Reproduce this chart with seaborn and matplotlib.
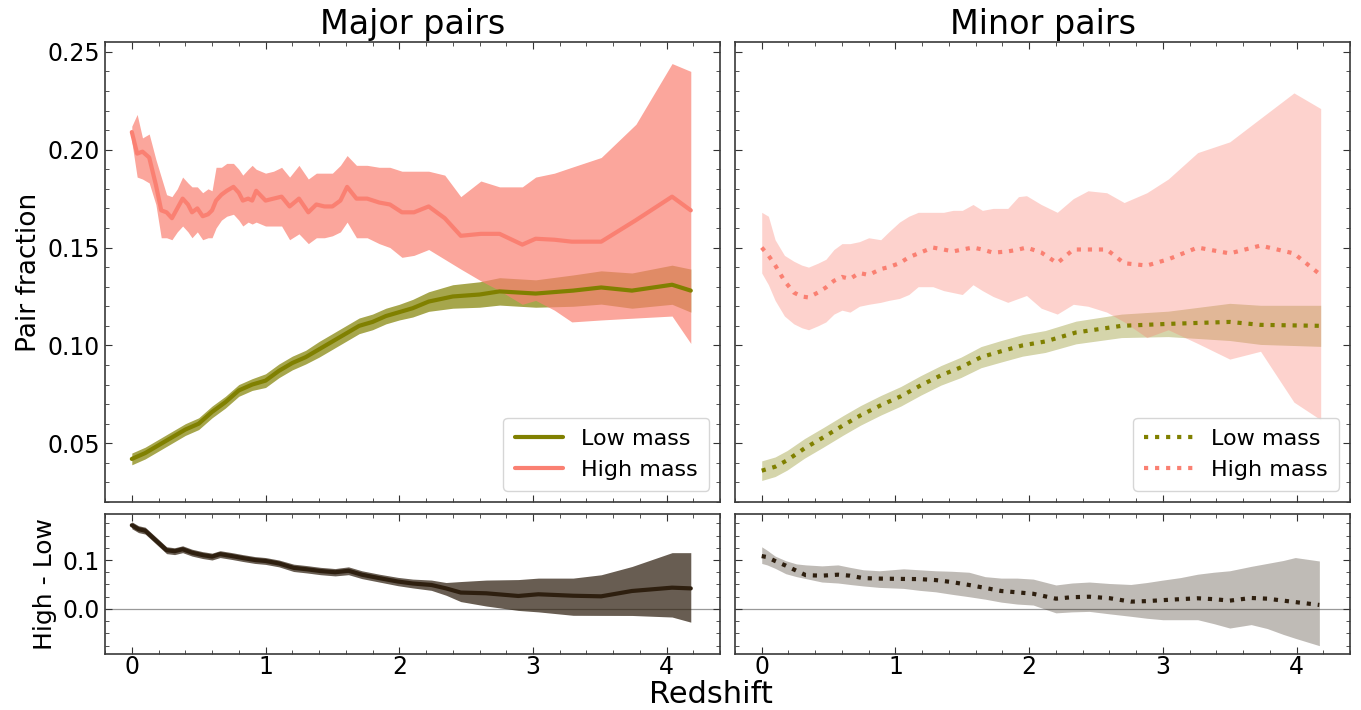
import numpy as np
import pandas as pd
import seaborn as sns
import matplotlib
import matplotlib.pyplot as plt
from matplotlib.ticker import AutoMinorLocator, MultipleLocator

matplotlib.use('Agg')

OLIVE = "#808000"
SALMON = "#FA8072"
DIFF = "#2e1f0f"

# ---- major pairs, high mass ----
maj_hi_z = [0.0, 0.04, 0.08, 0.13, 0.18, 0.22, 0.26, 0.30, 0.34, 0.38, 0.42, 0.45, 0.49, 0.53, 0.57,
            0.60, 0.63, 0.67, 0.71, 0.76, 0.80, 0.83, 0.87, 0.90, 0.93, 1.00, 1.06, 1.12, 1.18, 1.25,
            1.32, 1.38, 1.44, 1.50, 1.56, 1.61, 1.68, 1.76, 1.85, 1.93, 2.02, 2.11, 2.22, 2.34, 2.46,
            2.61, 2.75, 2.92, 3.02, 3.16, 3.29, 3.51, 3.77, 4.04, 4.18]
maj_hi_mid = [0.209, 0.198, 0.199, 0.196, 0.182, 0.169, 0.168, 0.165, 0.170, 0.175, 0.172, 0.168, 0.170, 0.166, 0.167,
              0.169, 0.174, 0.177, 0.179, 0.181, 0.178, 0.174, 0.175, 0.174, 0.179, 0.174, 0.175, 0.176, 0.171, 0.175,
              0.168, 0.172, 0.171, 0.171, 0.174, 0.181, 0.175, 0.175, 0.173, 0.172, 0.168, 0.168, 0.171, 0.165, 0.156,
              0.157, 0.157, 0.1515, 0.1545, 0.154, 0.153, 0.153, 0.164, 0.176, 0.169]
maj_hi_up = [0.212, 0.218, 0.206, 0.208, 0.195, 0.186, 0.177, 0.176, 0.180, 0.186, 0.183, 0.181, 0.181, 0.178, 0.180,
             0.179, 0.191, 0.191, 0.193, 0.193, 0.190, 0.187, 0.190, 0.192, 0.190, 0.188, 0.189, 0.191, 0.186, 0.192,
             0.185, 0.188, 0.188, 0.188, 0.192, 0.197, 0.192, 0.192, 0.191, 0.191, 0.189, 0.189, 0.189, 0.187, 0.176,
             0.184, 0.181, 0.181, 0.186, 0.188, 0.191, 0.196, 0.213, 0.244, 0.240]
maj_hi_lo = [0.204, 0.186, 0.185, 0.183, 0.172, 0.155, 0.155, 0.154, 0.158, 0.161, 0.158, 0.155, 0.158, 0.154, 0.155,
             0.155, 0.160, 0.164, 0.166, 0.167, 0.164, 0.161, 0.163, 0.162, 0.163, 0.161, 0.161, 0.161, 0.154, 0.157,
             0.152, 0.155, 0.155, 0.156, 0.158, 0.163, 0.155, 0.155, 0.152, 0.150, 0.145, 0.146, 0.149, 0.144, 0.139,
             0.133, 0.128, 0.121, 0.123, 0.118, 0.112, 0.113, 0.114, 0.115, 0.101]

# ---- major pairs, low mass ----
maj_lo_z = [0.0, 0.1, 0.2, 0.3, 0.4, 0.5, 0.6, 0.7, 0.8, 0.9, 1.0, 1.1, 1.2, 1.3, 1.4, 1.5, 1.6, 1.7,
            1.8, 1.9, 2.0, 2.1, 2.22, 2.4, 2.6, 2.75, 3.02, 3.3, 3.51, 3.74, 4.04, 4.18]
maj_lo_mid = [0.042, 0.045, 0.049, 0.053, 0.057, 0.060, 0.066, 0.071, 0.077, 0.080, 0.082, 0.087, 0.091, 0.094,
              0.098, 0.102, 0.106, 0.110, 0.112, 0.115, 0.117, 0.119, 0.1224, 0.125, 0.126, 0.1276, 0.1265,
              0.128, 0.1296, 0.128, 0.131, 0.128]
maj_lo_err = [0.003, 0.003, 0.003, 0.003, 0.003, 0.003, 0.003, 0.003, 0.003, 0.003, 0.0035, 0.0035, 0.0035,
              0.0035, 0.004, 0.004, 0.004, 0.004, 0.004, 0.004, 0.004, 0.0045, 0.005, 0.006, 0.0065, 0.007,
              0.007, 0.008, 0.0085, 0.009, 0.010, 0.011]

# ---- minor pairs, high mass ----
min_hi_z = [0.0, 0.05, 0.1, 0.17, 0.24, 0.3, 0.35, 0.42, 0.48, 0.54, 0.6, 0.66, 0.73, 0.8, 0.89, 0.95, 1.03,
            1.1, 1.17, 1.28, 1.36, 1.43, 1.5, 1.58, 1.65, 1.73, 1.84, 1.92, 1.98, 2.09, 2.21, 2.33, 2.44,
            2.58, 2.71, 2.88, 3.04, 3.26, 3.5, 3.73, 3.98, 4.18]
min_hi_mid = [0.150, 0.146, 0.141, 0.133, 0.127, 0.125, 0.1245, 0.127, 0.1296, 0.133, 0.135, 0.134, 0.137, 0.136,
              0.139, 0.140, 0.142, 0.145, 0.147, 0.150, 0.149, 0.148, 0.149, 0.150, 0.149, 0.1474, 0.148, 0.149,
              0.150, 0.1475, 0.142, 0.149, 0.149, 0.149, 0.142, 0.1408, 0.144, 0.150, 0.147, 0.151, 0.147, 0.136]
min_hi_up = [0.168, 0.166, 0.154, 0.146, 0.143, 0.141, 0.140, 0.142, 0.144, 0.149, 0.152, 0.152, 0.153, 0.155,
             0.154, 0.158, 0.163, 0.166, 0.168, 0.168, 0.168, 0.169, 0.169, 0.172, 0.169, 0.170, 0.170, 0.176,
             0.1765, 0.172, 0.168, 0.175, 0.179, 0.178, 0.173, 0.178, 0.185, 0.1985, 0.204, 0.216, 0.229, 0.221]
min_hi_lo = [0.137, 0.131, 0.123, 0.115, 0.111, 0.109, 0.108, 0.110, 0.112, 0.116, 0.118, 0.117, 0.120, 0.121,
             0.122, 0.123, 0.124, 0.126, 0.130, 0.130, 0.128, 0.127, 0.126, 0.131, 0.128, 0.125, 0.122, 0.124,
             0.1255, 0.119, 0.116, 0.121, 0.120, 0.117, 0.112, 0.104, 0.108, 0.101, 0.093, 0.097, 0.071, 0.062]

# ---- minor pairs, low mass ----
min_lo_z = [0.0, 0.1, 0.19, 0.32, 0.46, 0.61, 0.74, 0.89, 1.04, 1.19, 1.34, 1.49, 1.64, 1.79, 1.95, 2.12,
            2.35, 2.69, 3.04, 3.5, 3.73, 4.18]
min_lo_mid = [0.036, 0.038, 0.0413, 0.0474, 0.053, 0.0592, 0.0643, 0.0694, 0.074, 0.0796, 0.0847, 0.0888,
              0.094, 0.097, 0.100, 0.102, 0.1066, 0.110, 0.111, 0.112, 0.1105, 0.110]
min_lo_err = [0.005, 0.005, 0.005, 0.005, 0.005, 0.005, 0.005, 0.005, 0.005, 0.005, 0.005, 0.0052, 0.0054,
              0.0055, 0.0055, 0.0056, 0.0058, 0.006, 0.0065, 0.0095, 0.010, 0.0105]

# ---- high - low, major ----
maj_d_z = [0.0, 0.05, 0.1, 0.18, 0.26, 0.32, 0.38, 0.45, 0.53, 0.6, 0.66, 0.75, 0.83, 0.92, 1.0, 1.1, 1.21,
           1.31, 1.41, 1.52, 1.62, 1.72, 1.85, 1.99, 2.1, 2.24, 2.35, 2.46, 2.65, 2.89, 3.04, 3.3, 3.51,
           3.74, 4.04, 4.18]
maj_d_mid = [0.171, 0.163, 0.16, 0.14, 0.12, 0.118, 0.122, 0.115, 0.11, 0.107, 0.112, 0.108, 0.104, 0.100,
             0.098, 0.093, 0.084, 0.081, 0.0775, 0.075, 0.078, 0.070, 0.063, 0.056, 0.052, 0.049, 0.042,
             0.0335, 0.032, 0.0265, 0.030, 0.027, 0.0258, 0.0367, 0.0435, 0.042]
maj_d_up = [0.007, 0.007, 0.007, 0.007, 0.007, 0.007, 0.007, 0.007, 0.007, 0.007, 0.007, 0.007, 0.007, 0.007,
            0.007, 0.007, 0.0075, 0.0075, 0.0075, 0.0075, 0.008, 0.008, 0.008, 0.0085, 0.009, 0.010, 0.012, 0.0225,
            0.027, 0.0335, 0.033, 0.036, 0.044, 0.050, 0.0715, 0.073]
maj_d_dn = [0.007, 0.007, 0.007, 0.007, 0.007, 0.007, 0.007, 0.007, 0.007, 0.007, 0.007, 0.007, 0.007, 0.007,
            0.007, 0.007, 0.0075, 0.0075, 0.0075, 0.0075, 0.008, 0.008, 0.008, 0.0085, 0.009, 0.011, 0.014, 0.0185,
            0.026, 0.0295, 0.036, 0.040, 0.039, 0.050, 0.060, 0.069]

# ---- high - low, minor ----
min_d_z = [0.0, 0.04, 0.1, 0.18, 0.26, 0.33, 0.45, 0.57, 0.66, 0.76, 0.88, 1.06, 1.18, 1.3, 1.42, 1.55, 1.67,
           1.79, 1.91, 2.03, 2.2, 2.32, 2.45, 2.6, 2.76, 2.88, 3.0, 3.13, 3.26, 3.38, 3.5, 3.66, 3.78, 3.9,
           3.99, 4.17]
min_d_mid = [0.108, 0.106, 0.098, 0.0885, 0.078, 0.069, 0.068, 0.07, 0.068, 0.063, 0.062, 0.0613, 0.061, 0.059,
             0.055, 0.049, 0.043, 0.0367, 0.034, 0.031, 0.021, 0.024, 0.025, 0.022, 0.015, 0.016, 0.018, 0.020,
             0.0218, 0.020, 0.017, 0.0224, 0.021, 0.017, 0.014, 0.0082]
min_d_hi = [0.127, 0.120, 0.108, 0.0985, 0.092, 0.090, 0.088, 0.090, 0.085, 0.080, 0.078, 0.082, 0.080, 0.078,
            0.077, 0.075, 0.066, 0.063, 0.063, 0.061, 0.049, 0.053, 0.055, 0.052, 0.050, 0.054, 0.059, 0.064,
            0.071, 0.075, 0.078, 0.087, 0.093, 0.099, 0.105, 0.098]
min_d_lo = [0.093, 0.090, 0.083, 0.072, 0.066, 0.062, 0.055, 0.053, 0.050, 0.047, 0.044, 0.042, 0.038, 0.035,
            0.030, 0.025, 0.020, 0.014, 0.010, 0.008, -0.008, -0.006, -0.005, -0.010, -0.015, -0.019, -0.022,
            -0.022, -0.022, -0.030, -0.039, -0.032, -0.040, -0.052, -0.060, -0.075]


def frame(z, mid, lo, hi):
	return pd.DataFrame({"z": z, "mid": mid, "lo": lo, "hi": hi})


maj_hi = frame(maj_hi_z, maj_hi_mid, maj_hi_lo, maj_hi_up)
maj_lo = frame(maj_lo_z, maj_lo_mid,
			   np.subtract(maj_lo_mid, maj_lo_err), np.add(maj_lo_mid, maj_lo_err))
min_hi = frame(min_hi_z, min_hi_mid, min_hi_lo, min_hi_up)
min_lo = frame(min_lo_z, min_lo_mid,
			   np.subtract(min_lo_mid, min_lo_err), np.add(min_lo_mid, min_lo_err))
maj_d = frame(maj_d_z, maj_d_mid,
			  np.subtract(maj_d_mid, maj_d_dn), np.add(maj_d_mid, maj_d_up))
min_d = frame(min_d_z, min_d_mid, min_d_lo, min_d_hi)

sns.set_style("ticks")
plt.rcParams['font.family'] = ['DejaVu Sans']
plt.rcParams.update({
	"text.color": "black", "axes.labelcolor": "black",
	"xtick.color": "#333333", "ytick.color": "#333333",
	"xtick.labelcolor": "black", "ytick.labelcolor": "black",
	"xtick.direction": "in", "ytick.direction": "in",
	"xtick.top": True, "ytick.right": True,
	"xtick.minor.visible": True, "ytick.minor.visible": True,
	"xtick.major.size": 5, "ytick.major.size": 5,
	"xtick.minor.size": 3, "ytick.minor.size": 3,
	"axes.edgecolor": "#3a3a3a", "axes.linewidth": 1.2,
})

fig = plt.figure(figsize=(13.61, 7.10), dpi=100)
gs = fig.add_gridspec(2, 2, height_ratios=[460, 140], left=0.0772, right=0.992,
					  top=0.9408, bottom=0.0789, hspace=0.04, wspace=0.024)
ax_maj = fig.add_subplot(gs[0, 0])
ax_min = fig.add_subplot(gs[0, 1], sharex=ax_maj, sharey=ax_maj)
ax_majd = fig.add_subplot(gs[1, 0], sharex=ax_maj)
ax_mind = fig.add_subplot(gs[1, 1], sharex=ax_maj, sharey=ax_majd)

# top panels: bands first, then lines
ax_maj.fill_between(maj_lo.z, maj_lo.lo, maj_lo.hi, color=OLIVE, alpha=0.7, lw=0)
ax_maj.fill_between(maj_hi.z, maj_hi.lo, maj_hi.hi, color=SALMON, alpha=0.7, lw=0)
sns.lineplot(data=maj_lo, x="z", y="mid", ax=ax_maj, color=OLIVE, lw=3, label="Low mass")
sns.lineplot(data=maj_hi, x="z", y="mid", ax=ax_maj, color=SALMON, lw=3, label="High mass")

ax_min.fill_between(min_lo.z, min_lo.lo, min_lo.hi, color=OLIVE, alpha=0.33, lw=0)
ax_min.fill_between(min_hi.z, min_hi.lo, min_hi.hi, color=SALMON, alpha=0.35, lw=0)
sns.lineplot(data=min_lo, x="z", y="mid", ax=ax_min, color=OLIVE, lw=3, linestyle=":", label="Low mass")
sns.lineplot(data=min_hi, x="z", y="mid", ax=ax_min, color=SALMON, lw=3, linestyle=":", label="High mass")

# bottom panels: difference
for ax in (ax_majd, ax_mind):
	ax.axhline(0, color="#999999", lw=0.9, zorder=0)
ax_majd.fill_between(maj_d.z, maj_d.lo, maj_d.hi, color=DIFF, alpha=0.72, lw=0)
sns.lineplot(data=maj_d, x="z", y="mid", ax=ax_majd, color=DIFF, lw=3)
ax_mind.fill_between(min_d.z, min_d.lo, min_d.hi, color=DIFF, alpha=0.3, lw=0)
sns.lineplot(data=min_d, x="z", y="mid", ax=ax_mind, color=DIFF, lw=3, linestyle=":")

ax_maj.set_xlim(-0.2, 4.4)
ax_maj.set_ylim(0.02, 0.255)
ax_majd.set_ylim(-0.092, 0.194)
ax_maj.xaxis.set_major_locator(MultipleLocator(1))
ax_maj.xaxis.set_minor_locator(AutoMinorLocator(5))
ax_maj.yaxis.set_major_locator(MultipleLocator(0.05))
ax_maj.yaxis.set_minor_locator(AutoMinorLocator(5))
ax_majd.yaxis.set_major_locator(MultipleLocator(0.1))
ax_majd.yaxis.set_minor_locator(AutoMinorLocator(4))

for ax in (ax_maj, ax_min, ax_majd, ax_mind):
	ax.set_xlabel("")
	ax.set_ylabel("")
	ax.tick_params(which="both", labelsize=17)
	ax.tick_params(axis="x", which="major", pad=1)
for ax in (ax_maj, ax_min):
	ax.tick_params(labelbottom=False)
for ax in (ax_min, ax_mind):
	ax.tick_params(labelleft=False)

ax_maj.set_title("Major pairs", fontsize=24)
ax_min.set_title("Minor pairs", fontsize=24)
ax_maj.set_ylabel("Pair fraction", fontsize=19)
ax_majd.set_ylabel("High - Low", fontsize=18)
fig.text(0.522, 0.0015, "Redshift", fontsize=22, ha="center", va="bottom")

for ax in (ax_maj, ax_min):
	ax.legend(loc="lower right", fontsize=16, handlelength=2.2, borderpad=0.5)

fig.savefig("out.png", dpi=100)
